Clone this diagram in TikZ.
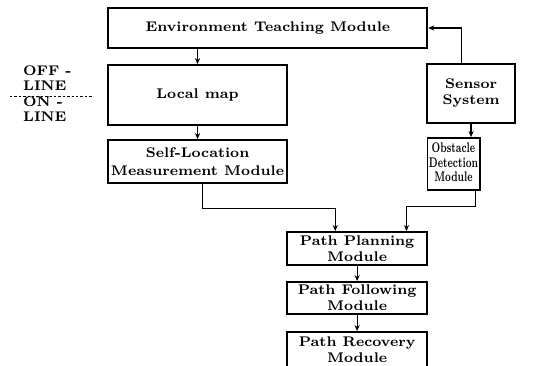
\documentclass[tikz,border=0pt]{standalone}
\usepackage{graphicx}
\usetikzlibrary{arrows.meta,calc}
\newcommand{\boxfont}{\fontsize{7.0}{8}\selectfont\bfseries}
\tikzset{
  box/.style={draw, line width=0.9pt, inner sep=0pt, align=center, font=\boxfont},
  arr/.style={line width=0.6pt, -{Stealth[length=3pt,width=2.6pt]}},
  dotline/.style={line width=0.45pt, dash pattern=on 1.2pt off 1pt},
  lbl/.style={inner sep=0pt, align=left, font=\fontsize{7.0}{7.75}\selectfont\bfseries}
}
\begin{document}
\begin{tikzpicture}[x=0.475pt,y=-0.5pt]
\useasboundingbox (0,0) rectangle (577,366);
\clip (0,0) rectangle (577,366);
\node[box, minimum width=159.6pt, minimum height=20pt] (env) at (282,28) {Environment Teaching Module};
\node[box, minimum width=89.3pt, minimum height=30pt] (lm) at (208,95) {Local map};
\node[box, minimum width=43.7pt, minimum height=29.5pt] (sensor) at (496,93.5) {Sensor\\System};
\node[box, minimum width=89.3pt, minimum height=21.5pt] (self) at (208,161.5) {Self-Location\\[1pt]Measurement Module};
\node[box, minimum width=26.1pt, minimum height=26pt] (obst) at (477.5,164)
  {\scalebox{0.64}[1]{\begin{tabular}{@{}c@{}}Obstacle\\[-0.6pt]Detection\\[-0.6pt]Module\end{tabular}}};
\node[box, minimum width=70.3pt, minimum height=16.5pt] (pp) at (376,248.5) {Path Planning\\Module};
\node[box, minimum width=70.3pt, minimum height=16pt] (pf) at (376,298) {Path Following\\Module};
\node[box, minimum width=70.3pt, minimum height=18pt] (pr) at (376,350) {Path Recovery\\Module};
\node[lbl, anchor=north west] (offon) at (24,65) {OFF -\\LINE\\ON -\\LINE};
\coordinate (dl1) at (10.5,96);
\coordinate (dl2) at (98,96);
\draw[dotline] (dl1) -- (dl2);
\draw[arr] (env.south -| lm) -- (lm.north);
\draw[arr] (lm.south) -- (self.north);
\draw[arr] ($(sensor.north)+(-10,0)$) |- (env.east);
\draw[arr] (sensor.south) -- (sensor.south |- obst.north);
\draw[arr] ($(self.south)+(5,0)$) -- ++(0,25) -| ($(pp.north)+(-23,0)$);
\draw[arr] ($(obst.south)+(23.5,0)$) -- ++(0,16) -| ($(pp.north)+(52,0)$);
\draw[arr] (pp.south) -- (pf.north);
\draw[arr] (pf.south) -- (pr.north);
\end{tikzpicture}
\end{document}
